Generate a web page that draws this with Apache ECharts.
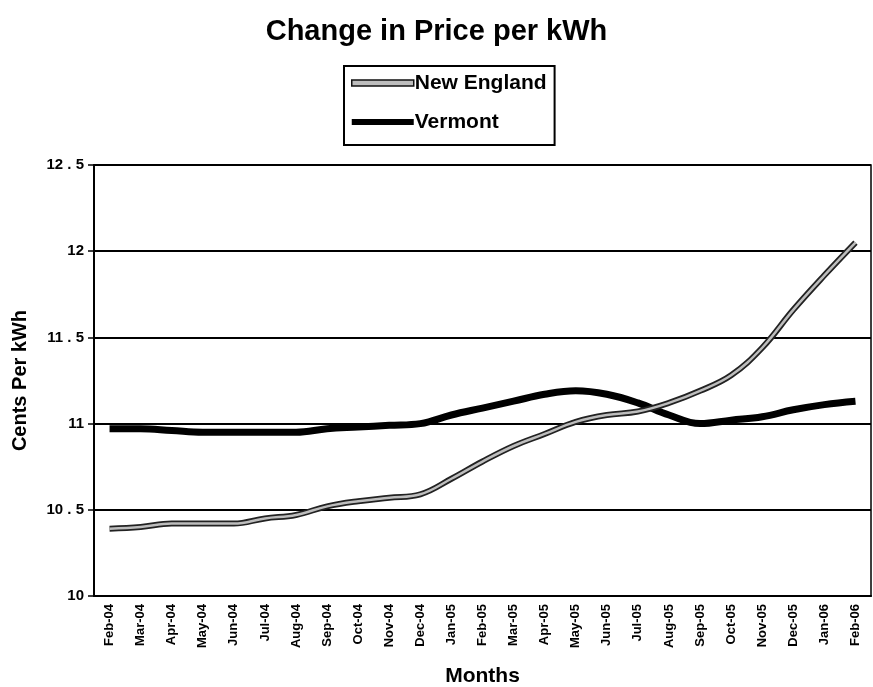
<!DOCTYPE html>
<html>
<head>
<meta charset="utf-8">
<script src="https://cdn.jsdelivr.net/npm/echarts@6/dist/echarts.min.js"></script>
<style>
    html, body { margin: 0; padding: 0; background: #fff; }
    #chart { width: 873px; height: 687px; }
</style>
</head>
<body>
<div id="chart"></div>
<script>
var months = ['Feb-04', 'Mar-04', 'Apr-04', 'May-04', 'Jun-04', 'Jul-04', 'Aug-04', 'Sep-04', 'Oct-04', 'Nov-04', 'Dec-04',
    'Jan-05', 'Feb-05', 'Mar-05', 'Apr-05', 'May-05', 'Jun-05', 'Jul-05', 'Aug-05', 'Sep-05', 'Oct-05', 'Nov-05', 'Dec-05',
    'Jan-06', 'Feb-06'];
var newEngland = [10.39, 10.40, 10.42, 10.42, 10.42, 10.45, 10.47, 10.52, 10.55, 10.57, 10.59,
    10.68, 10.78, 10.87, 10.94, 11.01, 11.05, 11.07, 11.12, 11.19, 11.28, 11.44, 11.66,
    11.86, 12.05];
var vermont = [10.97, 10.97, 10.96, 10.95, 10.95, 10.95, 10.95, 10.97, 10.98, 10.99, 11.00,
    11.05, 11.09, 11.13, 11.17, 11.19, 11.17, 11.12, 11.05, 11.00, 11.02, 11.04, 11.08,
    11.11, 11.13];

var myChart = echarts.init(document.getElementById('chart'));
var font = 'Arial, "Liberation Sans", sans-serif';
var option = {
    animation: false,
    title: {
        text: 'Change in Price per kWh',
        left: 'center',
        top: 12,
        textStyle: { fontFamily: font, fontWeight: 'bold', fontSize: 29, color: '#000' }
    },
    legend: {
        data: [
            { name: 'New England', itemStyle: { color: '#bdbdbd', borderColor: '#111', borderWidth: 1.5 } },
            { name: 'Vermont', itemStyle: { color: '#000' } }
        ],
        orient: 'vertical',
        left: 344,
        top: 66,
        padding: [5, 8, 11, 7],
        itemGap: 15,
        itemWidth: 62,
        itemHeight: 6,
        borderColor: '#000',
        borderWidth: 2,
        icon: 'rect',
        textStyle: { fontFamily: font, fontWeight: 'bold', fontSize: 21, lineHeight: 24, color: '#000', padding: [0, 0, 0, -4] }
    },
    grid: {
        left: 94,
        right: 2,
        top: 165,
        bottom: 91,
        outerBoundsMode: 'none',
        show: true,
        borderColor: '#000',
        borderWidth: 1.5
    },
    xAxis: {
        type: 'category',
        data: months,
        boundaryGap: true,
        name: 'Months',
        nameLocation: 'middle',
        nameGap: 70,
        nameTextStyle: { fontFamily: font, fontWeight: 'bold', fontSize: 21, color: '#000' },
        axisLine: { lineStyle: { color: '#000', width: 2 } },
        axisTick: { lineStyle: { color: '#000', width: 1.5 }, length: 5 },
        axisLabel: { rotate: 90, interval: 0, fontFamily: font, fontWeight: 'bold', fontSize: 13, color: '#000', margin: 8 }
    },
    yAxis: {
        type: 'value',
        min: 10,
        max: 12.5,
        interval: 0.5,
        name: 'Cents Per kWh',
        nameLocation: 'middle',
        nameGap: 64,
        nameTextStyle: { fontFamily: font, fontWeight: 'bold', fontSize: 20, color: '#000' },
        axisLine: { show: true, lineStyle: { color: '#000', width: 2 } },
        axisTick: { show: true, lineStyle: { color: '#000', width: 1.5 }, length: 6 },
        splitLine: { lineStyle: { color: '#000', width: 2 } },
        axisLabel: {
            fontFamily: font, fontWeight: 'bold', fontSize: 15, color: '#000', margin: 10,
            formatter: function (v) { return String(v).replace('.', ' . '); }
        }
    },
    series: [
        {
            name: 'New England',
            type: 'line',
            data: newEngland,
            smooth: 0.4,
            showSymbol: false,
            color: '#bdbdbd',
            lineStyle: { color: '#222', width: 6 },
            z: 3
        },
        {
            name: 'NE inner',
            type: 'line',
            data: newEngland,
            smooth: 0.4,
            showSymbol: false,
            color: '#bbb',
            lineStyle: { color: '#bdbdbd', width: 2.5 },
            z: 4,
            silent: true
        },
        {
            name: 'Vermont',
            type: 'line',
            data: vermont,
            smooth: 0.4,
            showSymbol: false,
            color: '#000',
            lineStyle: { color: '#000', width: 7 },
            z: 2
        }
    ]
};
myChart.setOption(option);
</script>
</body>
</html>
